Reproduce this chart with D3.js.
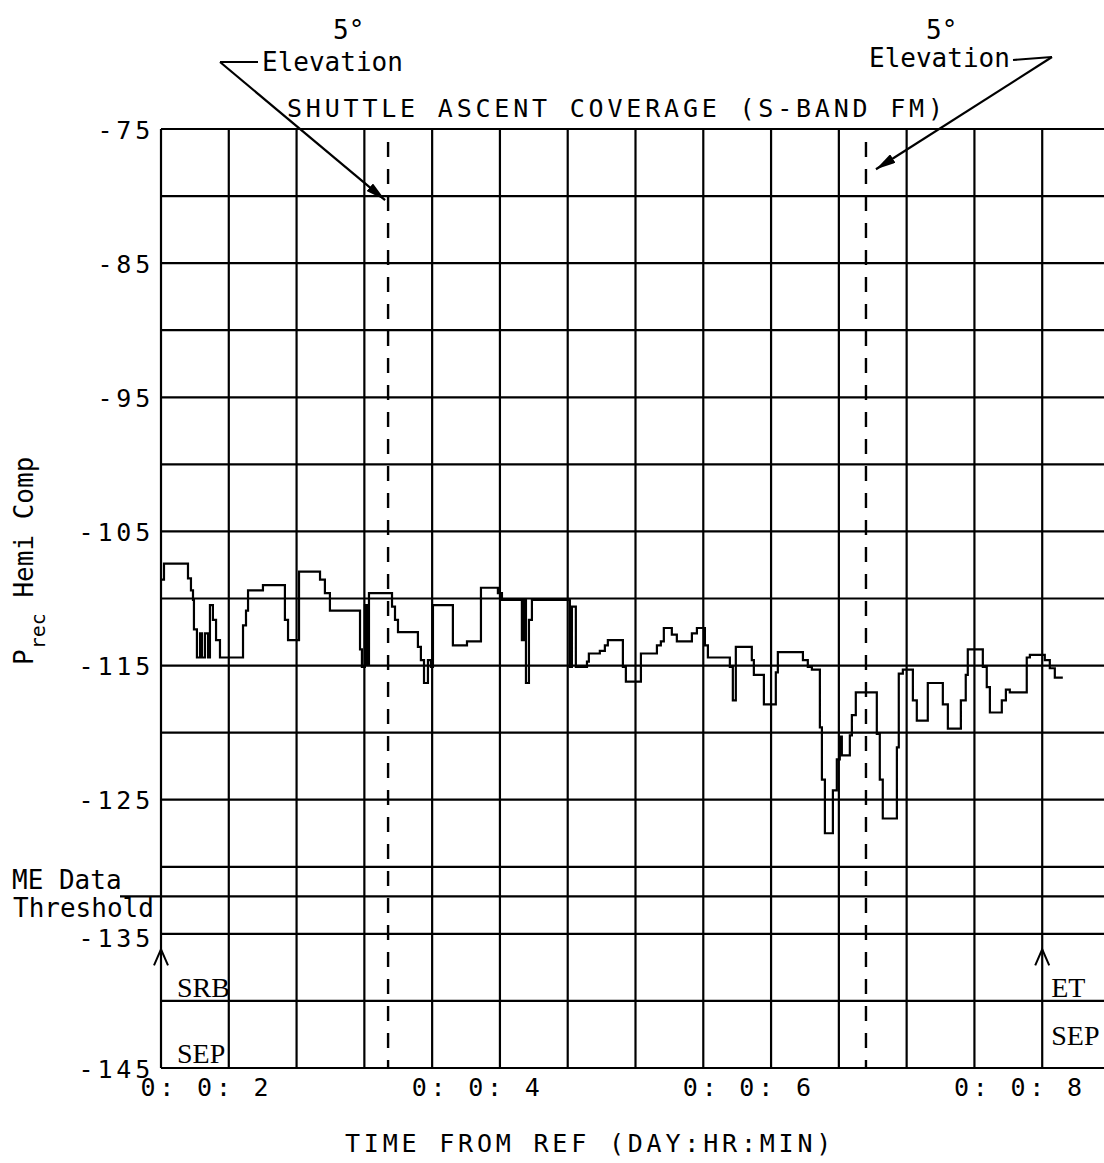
<!DOCTYPE html>
<html>
<head>
<meta charset="utf-8">
<script src="https://cdn.jsdelivr.net/npm/d3@7"></script>
<style>
  html, body { margin: 0; padding: 0; background: #fff; }
  svg { display: block; }
  text { fill: #000; }
</style>
</head>
<body>
<svg id="chart" width="1104" height="1163"></svg>
<script>
// Received power (hemispherical composite), step trace: minutes from reference / dBm
const traceTime = [
  2.007,2.022,2.199,2.221,2.236,2.243,2.265,2.288,2.302,2.324,
  2.347,2.361,2.383,2.406,2.435,2.605,2.627,2.642,2.752,2.914,
  2.937,3.018,3.173,3.209,3.246,3.468,3.482,3.504,3.519,3.534,
  3.704,3.726,3.748,3.895,3.917,3.940,3.969,3.991,4.006,4.153,
  4.257,4.360,4.485,4.515,4.662,4.677,4.692,4.714,4.736,5.016,
  5.031,5.060,5.142,5.156,5.237,5.274,5.296,5.407,5.429,5.540,
  5.658,5.687,5.709,5.768,5.805,5.916,5.953,6.012,6.034,6.196,
  6.218,6.240,6.358,6.373,6.447,6.535,6.550,6.735,6.771,6.801,
  6.860,6.875,6.897,6.956,6.985,7.007,7.022,7.081,7.096,7.125,
  7.280,7.302,7.324,7.428,7.442,7.472,7.546,7.575,7.656,7.767,
  7.804,7.900,7.936,7.951,8.062,8.091,8.114,8.202,8.232,8.261,
  8.386,8.409,8.519,8.556,8.593,8.652
];
const traceLevel = [
  -108.6,-107.4,-108.5,-109.4,-110.1,-112.3,-114.4,-112.6,-114.4,-112.6,
  -114.4,-110.5,-111.6,-113.1,-114.4,-112.0,-110.9,-109.4,-109.0,-111.6,
  -113.1,-108.0,-108.6,-109.6,-110.9,-113.8,-115.1,-110.5,-114.9,-109.6,
  -110.6,-111.6,-112.5,-113.6,-114.6,-116.3,-114.6,-115.1,-110.5,-113.5,
  -113.2,-109.2,-109.6,-110.1,-113.1,-110.1,-116.3,-111.6,-110.1,-115.1,
  -110.6,-115.1,-114.7,-114.1,-113.9,-113.5,-113.1,-115.1,-116.2,-114.1,
  -113.5,-113.2,-112.2,-112.7,-113.2,-112.6,-112.2,-113.5,-114.4,-115.1,
  -117.6,-113.6,-114.6,-115.7,-117.9,-115.5,-114.0,-114.6,-115.1,-115.3,
  -119.6,-123.5,-127.5,-124.3,-122.0,-120.3,-121.7,-120.2,-118.7,-117.0,
  -120.1,-123.5,-126.4,-121.1,-115.6,-115.3,-117.6,-119.1,-116.3,-117.9,
  -119.7,-117.6,-115.7,-113.8,-115.1,-116.6,-118.5,-117.6,-116.8,-117.0,
  -114.4,-114.2,-114.6,-115.2,-115.9,-115.9
];

const yTickValues = [-75, -85, -95, -105, -115, -125, -135, -145];
const xTickValues = [2, 4, 6, 8];
const xTickLabels = ["0: 0: 2", "0: 0: 4", "0: 0: 6", "0: 0: 8"];
const elevationTimes = [3.675, 7.2];      // 5 degree elevation crossings
const thresholdLevel = -132.2;            // main engine data threshold
const eventTimes = [2.0, 8.5];            // SRB separation, ET separation
const eventLabels = [["SRB", "SEP"], ["ET", "SEP"]];

const plotFont = "'DejaVu Sans Mono', monospace";
const svg = d3.select("#chart");

const x = d3.scaleLinear().domain([2, 9]).range([161, 1110]);
const y = d3.scaleLinear().domain([-75, -145]).range([129, 1068]);

// grid
const grid = svg.append("g").attr("stroke", "#000").attr("stroke-width", 2.2);
grid.selectAll("line.v").data(d3.range(2, 9.001, 0.5)).join("line")
  .attr("x1", d => x(d)).attr("x2", d => x(d))
  .attr("y1", y(-75)).attr("y2", y(-145));
grid.selectAll("line.h").data(d3.range(-75, -145.001, -5)).join("line")
  .attr("x1", x(2)).attr("x2", x(9))
  .attr("y1", d => y(d)).attr("y2", d => y(d));

// y axis labels
const yAxis = d3.axisLeft(y).tickValues(yTickValues).tickSize(0).tickPadding(7)
  .tickFormat(d => String(d));
const gy = svg.append("g").attr("transform", `translate(${x(2)},0)`).call(yAxis);
gy.select(".domain").remove();
gy.selectAll("text").attr("font-family", plotFont).attr("font-size", 25)
  .attr("letter-spacing", 3.8).attr("dy", "0.36em").attr("fill", "#000");
gy.selectAll(".tick").filter(d => d === -135).select("text").attr("dy", "0.5em");

// x axis labels
const xAxis = d3.axisBottom(x).tickValues(xTickValues).tickSize(0).tickPadding(0)
  .tickFormat((d, i) => xTickLabels[i]);
const gx = svg.append("g").attr("transform", `translate(0,${y(-145)})`).call(xAxis);
gx.select(".domain").remove();
gx.selectAll("text").attr("font-family", plotFont).attr("font-size", 25)
  .attr("letter-spacing", 3.8).attr("text-anchor", "start").attr("dx", -21)
  .attr("dy", 0).attr("y", 28).attr("fill", "#000").style("white-space", "pre");

// titles
svg.append("text").attr("x", 287).attr("y", 117)
  .attr("font-family", plotFont).attr("font-size", 25).attr("letter-spacing", 3.8)
  .text("SHUTTLE ASCENT COVERAGE (S-BAND FM)");
svg.append("text").attr("x", 345).attr("y", 1152)
  .attr("font-family", plotFont).attr("font-size", 25).attr("letter-spacing", 3.8)
  .text("TIME FROM REF (DAY:HR:MIN)");

// y axis title
const yt = svg.append("text")
  .attr("transform", "translate(33,665) rotate(-90)")
  .attr("font-family", plotFont).attr("font-size", 26);
yt.append("tspan").text("P");
yt.append("tspan").attr("font-size", 20).attr("dy", 12).text("rec");
yt.append("tspan").attr("dy", -12).text(" Hemi Comp");

// elevation lines
svg.append("g").selectAll("line").data(elevationTimes).join("line")
  .attr("x1", d => x(d)).attr("x2", d => x(d))
  .attr("y1", y(-75)).attr("y2", y(-145))
  .attr("stroke", "#000").attr("stroke-width", 2.4)
  .attr("stroke-dasharray", "15,12").attr("stroke-dashoffset", 14);

// threshold line
svg.append("line")
  .attr("x1", 120).attr("x2", x(9))
  .attr("y1", y(thresholdLevel)).attr("y2", y(thresholdLevel))
  .attr("stroke", "#000").attr("stroke-width", 2.2);
svg.append("text").attr("x", 12).attr("y", 889)
  .attr("font-family", plotFont).attr("font-size", 26).text("ME Data");
svg.append("text").attr("x", 13).attr("y", 917)
  .attr("font-family", plotFont).attr("font-size", 26).text("Threshold");

// received power trace
const trace = traceTime.map((t, i) => [t, traceLevel[i]]);
svg.append("path").datum(trace)
  .attr("d", d3.line().x(d => x(d[0])).y(d => y(d[1])).curve(d3.curveStepAfter))
  .attr("fill", "none").attr("stroke", "#000").attr("stroke-width", 2.2);

// separation events
const ev = svg.append("g");
const labelOffset = [16, 9];
const sepLevel = [-144.6, -143.3];
eventTimes.forEach((t, i) => {
  const ex = x(t);
  const ay = y(-136.6);
  ev.append("path")
    .attr("d", `M${ex - 7},${ay + 10} L${ex},${ay - 6} L${ex + 7},${ay + 10}`)
    .attr("fill", "none").attr("stroke", "#000").attr("stroke-width", 2);
  ev.append("text").attr("x", ex + labelOffset[i]).attr("y", y(-139.7))
    .attr("font-family", "'Liberation Serif', serif").attr("font-size", 28)
    .text(eventLabels[i][0]);
  ev.append("text").attr("x", ex + labelOffset[i]).attr("y", y(sepLevel[i]))
    .attr("font-family", "'Liberation Serif', serif").attr("font-size", 28)
    .text(eventLabels[i][1]);
});

// 5 degree elevation annotations
const defs = svg.append("defs");
defs.append("marker").attr("id", "head").attr("viewBox", "0 0 20 10")
  .attr("refX", 20).attr("refY", 5).attr("markerWidth", 20).attr("markerHeight", 10)
  .attr("markerUnits", "userSpaceOnUse").attr("orient", "auto")
  .append("path").attr("d", "M0,0 L20,5 L0,10 Z").attr("fill", "#000");

const ann = svg.append("g").attr("font-family", plotFont).attr("font-size", 26);
ann.append("text").attr("x", 333).attr("y", 39).text("5°");
ann.append("text").attr("x", 262).attr("y", 71).text("Elevation");
ann.append("text").attr("x", 926).attr("y", 39).text("5°");
ann.append("text").attr("x", 869).attr("y", 67).text("Elevation");

const tipL = [x(elevationTimes[0]) - 3, y(-80.3)];
const tipR = [x(elevationTimes[1]) + 10, y(-78.0)];
ann.append("path").attr("d", `M258,62 L220,62`)
  .attr("stroke", "#000").attr("stroke-width", 2.2).attr("fill", "none");
ann.append("path").attr("d", `M220,62 L${tipL[0]},${tipL[1]}`)
  .attr("stroke", "#000").attr("stroke-width", 2.2).attr("fill", "none")
  .attr("marker-end", "url(#head)");
ann.append("path").attr("d", `M1013,60 L1052,57`)
  .attr("stroke", "#000").attr("stroke-width", 2.2).attr("fill", "none");
ann.append("path").attr("d", `M1052,57 L${tipR[0]},${tipR[1]}`)
  .attr("stroke", "#000").attr("stroke-width", 2.2).attr("fill", "none")
  .attr("marker-end", "url(#head)");
</script>
</body>
</html>
